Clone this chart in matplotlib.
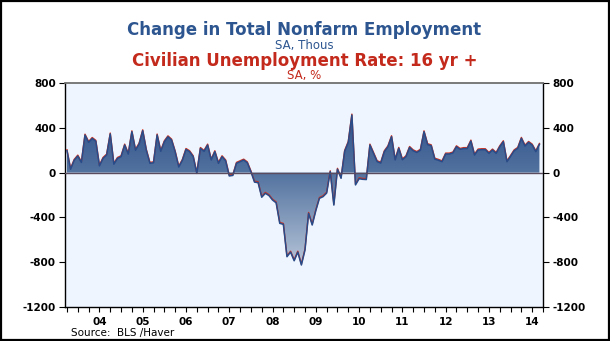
"""Monthly change in nonfarm payrolls, Oct 2003 - Sep 2014, Haver-style panel."""

import numpy as np
import matplotlib
matplotlib.use("Agg")
import matplotlib.pyplot as plt
from matplotlib.colors import LinearSegmentedColormap
from matplotlib.patches import Polygon, Rectangle
import matplotlib.transforms as mtransforms

plt.rcParams["font.family"] = ["DejaVu Sans"]

# monthly change, thousands (SA); series starts Oct 2003
start_year = 2003
start_month = 10
payrolls = [
    196, 30, 110,                                                   # 2003 Q4
    148, 90, 335, 270, 305, 280, 60, 127, 157, 345, 75, 127,        # 2004
    142, 246, 165, 365, 200, 255, 374, 200, 83, 88, 336, 190,       # 2005
    276, 320, 291, 185, 50, 110, 207, 187, 142, -7, 216, 190,       # 2006
    246, 113, 187, 83, 142, 105, -30, -25, 83, 98, 112, 88,         # 2007
    8, -85, -90, -220, -185, -205, -245, -270, -453, -462, -751, -710,  # 2008
    -787, -710, -825, -691, -364, -468, -340, -230, -215, -183, 8, -290,  # 2009
    30, -51, 190, 270, 514, -110, -55, -60, -62, 246, 172, 98,     # 2010
    85, 187, 231, 321, 113, 217, 115, 142, 225, 195, 180, 200,      # 2011
    365, 250, 240, 120, 110, 97, 166, 166, 175, 231, 208, 215,      # 2012
    215, 282, 157, 202, 205, 205, 172, 202, 172, 231, 276, 97,      # 2013
    145, 195, 217, 306, 237, 270, 246, 187, 252,                    # 2014
]
year_labels = ["04", "05", "06", "07", "08", "09", "10", "11", "12", "13", "14"]
y_ticks = [-1200, -800, -400, 0, 400, 800]

vals = np.array(payrolls, dtype=float)
x = start_year + (start_month - 1) / 12 + np.arange(len(vals)) / 12.0

fig = plt.figure(figsize=(6.10, 3.41), dpi=100)
fig.patch.set_facecolor("white")
ax = fig.add_axes([0.1066, 0.0997, 0.7836, 0.6569])
ax.set_facecolor("#eef5fe")

x0, x1 = 2003.705, 2014.72
ymin, ymax = -1200, 800

# gradient fill between the series and zero
cmap = LinearSegmentedColormap.from_list(
    "fill", [(0.0, "#b7c5d9"), (0.615, "#52729f"), (1.0, "#2e518a")])
grad = np.linspace(0, 1, 256).reshape(-1, 1)
im = ax.imshow(grad, extent=[x0, x1, -830, 520], origin="lower",
               aspect="auto", cmap=cmap, zorder=2)
verts = [(x[0], 0)] + list(zip(x, vals)) + [(x[-1], 0)]
shape = Polygon(verts, closed=True, facecolor="none", edgecolor="none")
ax.add_patch(shape)
im.set_clip_path(shape)

# red edge peeking just above the blue outline
lift = mtransforms.offset_copy(ax.transData, fig=fig, x=0, y=0.9, units="dots")
ax.plot(x, vals, color="#d2321e", lw=1.0, transform=lift, zorder=3)
ax.plot(x, vals, color="#284b89", lw=1.1, zorder=4)
ax.axhline(0, color="#5b4b5e", lw=1.0, zorder=5)

ax.set_xlim(x0, x1)
ax.set_ylim(ymin, ymax)

# quarterly ticks, year labels centred mid-year (mid-year falls on a quarter tick)
ax.xaxis.remove_overlapping_locs = False
quarters = np.arange(2003.75, 2014.76, 0.25)
ax.set_xticks(quarters)
ax.set_xticklabels([""] * len(quarters))
ax.set_xticks([2004.5 + k for k in range(len(year_labels))], minor=True)
ax.set_xticklabels(year_labels, minor=True, fontsize=7.5, fontweight="bold")
ax.tick_params(axis="x", which="major", bottom=True, direction="out",
               length=3.5, width=0.8, color="black")
ax.tick_params(axis="x", which="minor", bottom=True, length=0, pad=7)

# same scale on both sides
ax.set_yticks(y_ticks)
ax.set_yticklabels([str(t) for t in y_ticks], fontsize=7.5, fontweight="bold")
ax.tick_params(axis="y", which="major", left=True, right=True,
               labelleft=True, labelright=True, direction="out",
               length=4, width=0.8, pad=2.5)

for side in ("left", "right", "bottom"):
    ax.spines[side].set_color("black")
    ax.spines[side].set_linewidth(1.0)
ax.spines["top"].set_color("#6f6f6f")
ax.spines["top"].set_linewidth(1.3)

blue = "#2d5690"
red = "#c42a1c"
fig.text(0.499, 1 - 30 / 341, "Change in Total Nonfarm Employment",
         ha="center", va="center", fontsize=12, fontweight="bold", color=blue)
fig.text(0.499, 1 - 45 / 341, "SA, Thous", ha="center", va="center",
         fontsize=8.5, color=blue)
fig.text(0.499, 1 - 60.5 / 341, "Civilian Unemployment Rate: 16 yr +",
         ha="center", va="center", fontsize=12, fontweight="bold", color=red)
fig.text(0.499, 1 - 75.5 / 341, "SA, %", ha="center", va="center",
         fontsize=8.5, color=red)
fig.text(71 / 610, 1 - 333 / 341, "Source:  BLS /Haver", ha="left",
         va="center", fontsize=7.5, color="black")

fig.patches.append(Rectangle((0.001, 0.002), 0.997, 0.996, transform=fig.transFigure,
                             fill=False, edgecolor="black", lw=1.6))

fig.savefig("out.png", dpi=100)
